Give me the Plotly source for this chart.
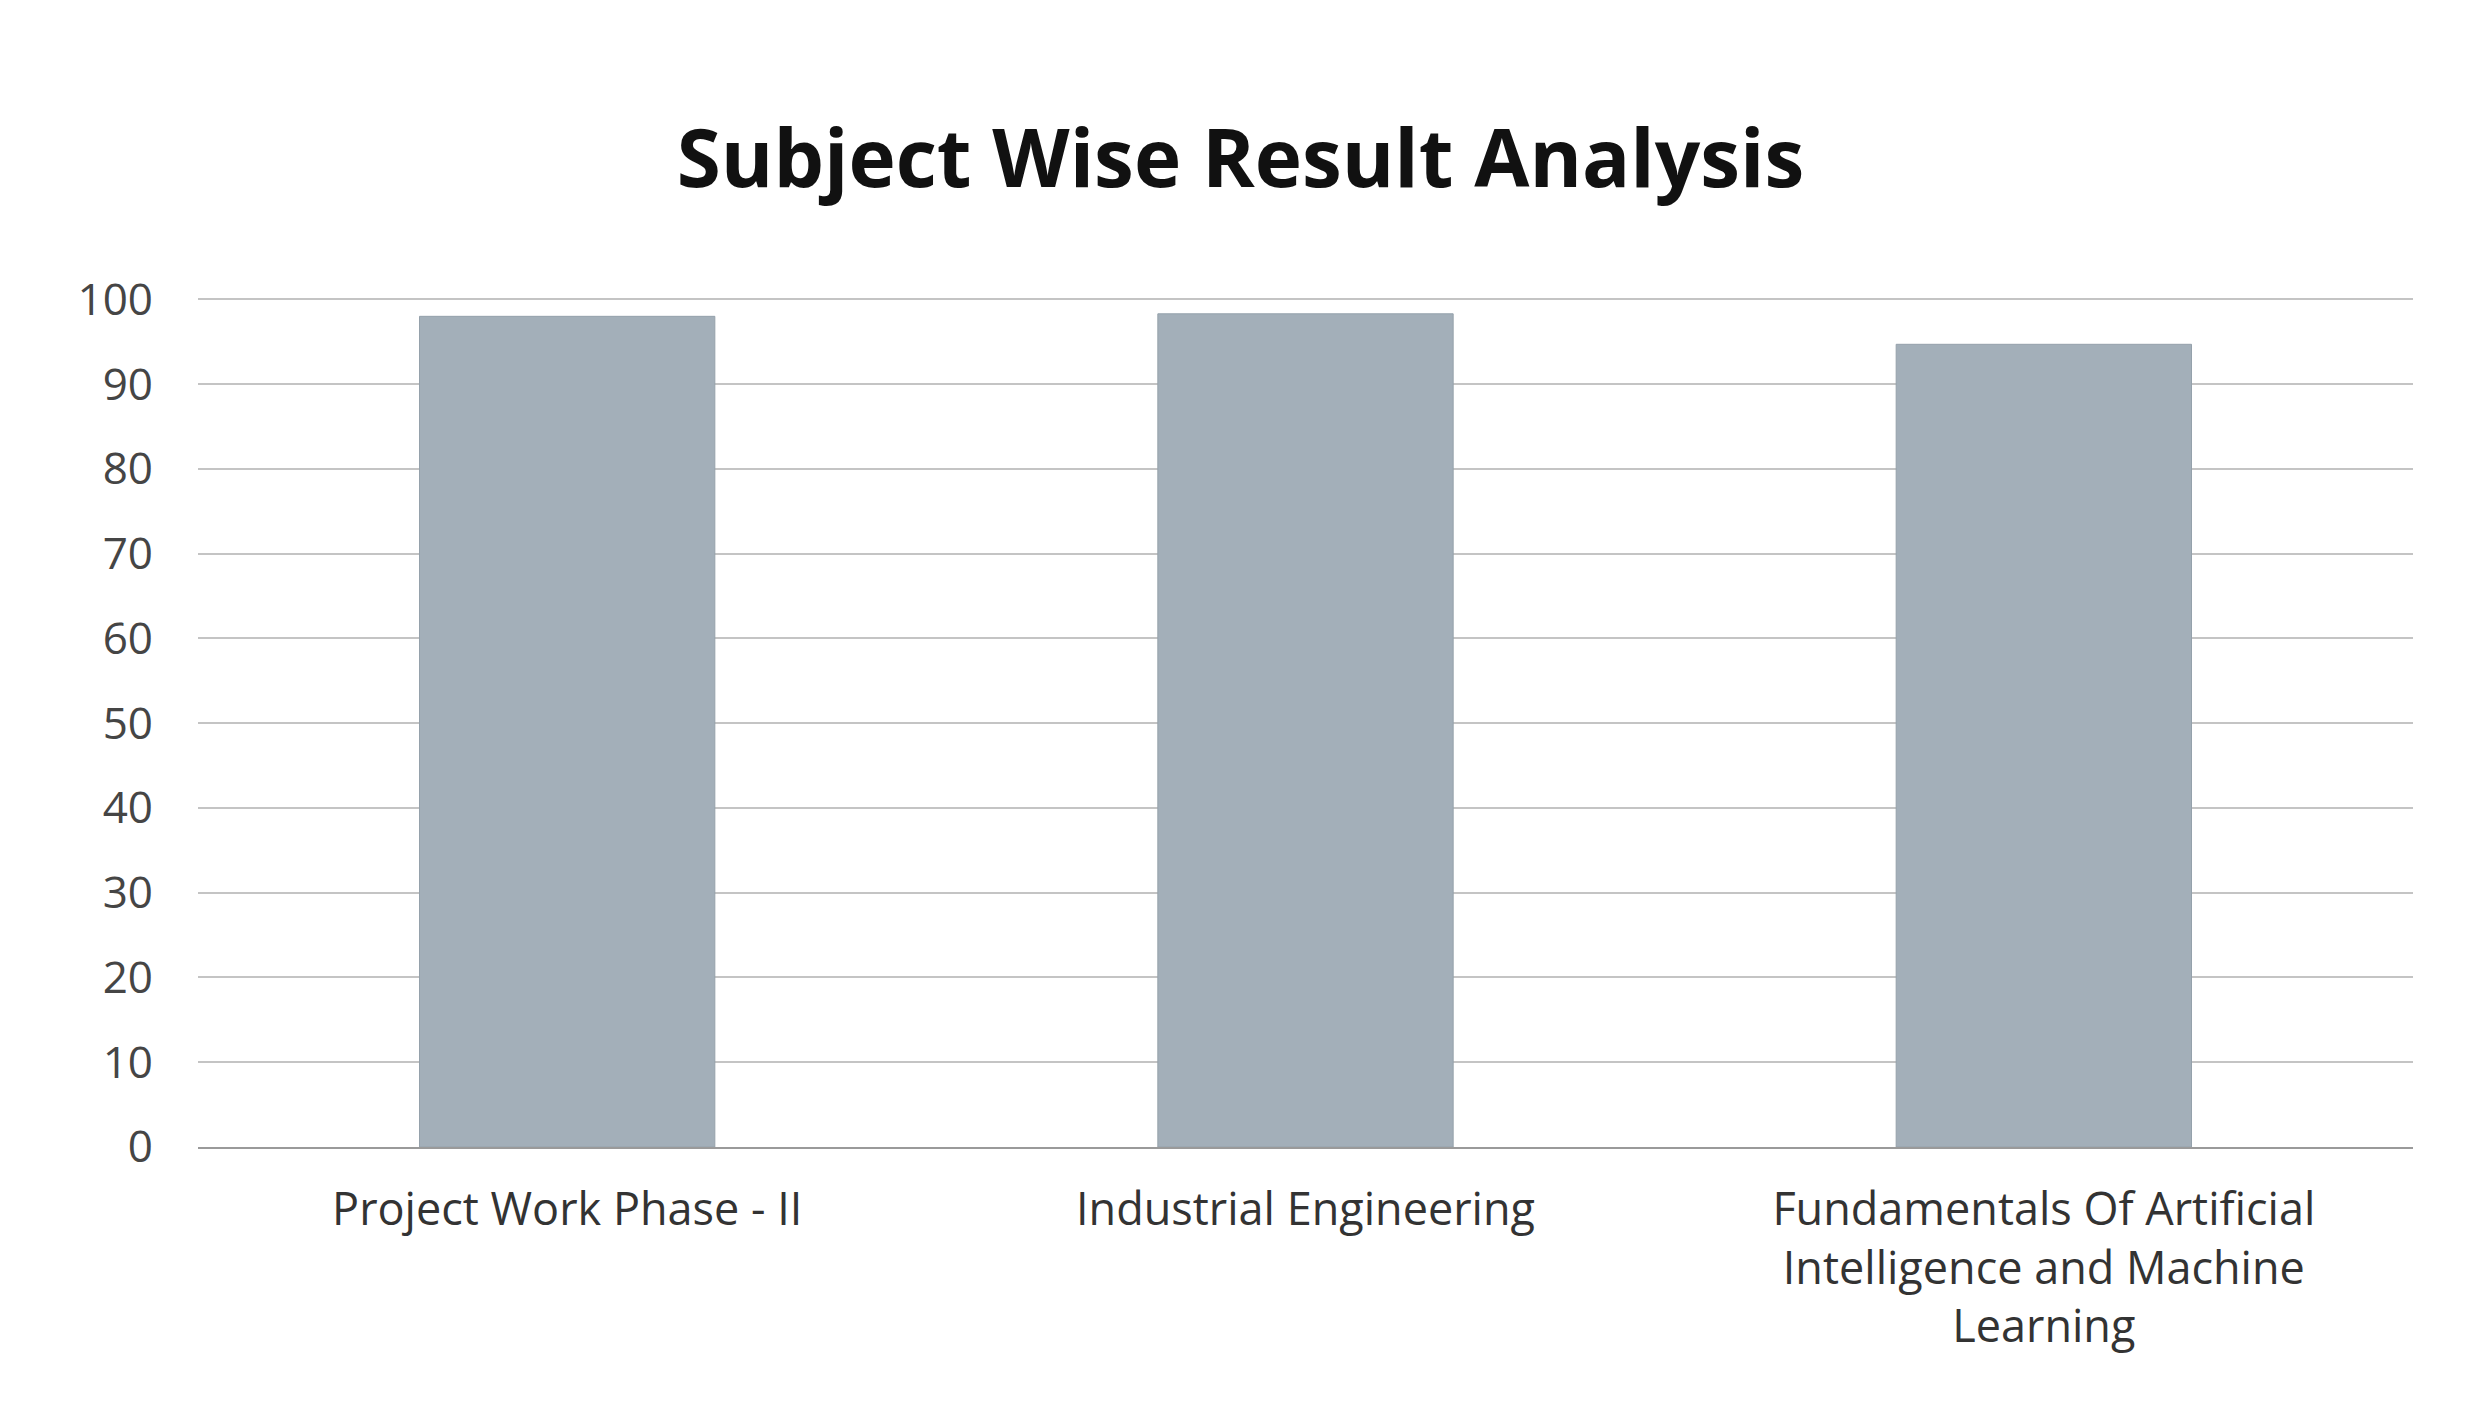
import plotly.graph_objects as go

# data
subjects = [
    "Project Work Phase - II",
    "Industrial Engineering",
    "Fundamentals Of Artificial<br>Intelligence and Machine<br>Learning",
]
pass_percent = [98, 98.3, 94.7]
y_ticks = [0, 10, 20, 30, 40, 50, 60, 70, 80, 90, 100]

fig = go.Figure()

fig.add_trace(go.Bar(
    x=subjects,
    y=pass_percent,
    marker=dict(color="#a3afb9", line=dict(color="#95a1ab", width=1)),
    showlegend=False,
))

fig.update_layout(
    width=2465,
    height=1411,
    paper_bgcolor="white",
    plot_bgcolor="white",
    margin=dict(l=190, r=60, t=288, b=272),
    bargap=0.6,
    font=dict(family="Open Sans", color="#404040"),
    title=dict(
        text="<b>Subject Wise Result Analysis</b>",
        x=0.5,
        xanchor="center",
        y=0.893,
        yanchor="middle",
        font=dict(size=80, color="#111111", family="Open Sans"),
    ),
    xaxis=dict(
        tickfont=dict(size=45, color="#333333"),
        showline=True,
        linecolor="#9a9a9a",
        linewidth=2,
        ticks="",
        ticklabelstandoff=22,
    ),
    yaxis=dict(
        range=[0, 100.4],
        tickvals=y_ticks,
        tickfont=dict(size=44, color="#454545"),
        showgrid=True,
        gridcolor="#c4c4c4",
        gridwidth=2,
        zeroline=False,
        ticks="",
        ticklabelstandoff=44,
    ),
)

fig.write_html("out.html")
